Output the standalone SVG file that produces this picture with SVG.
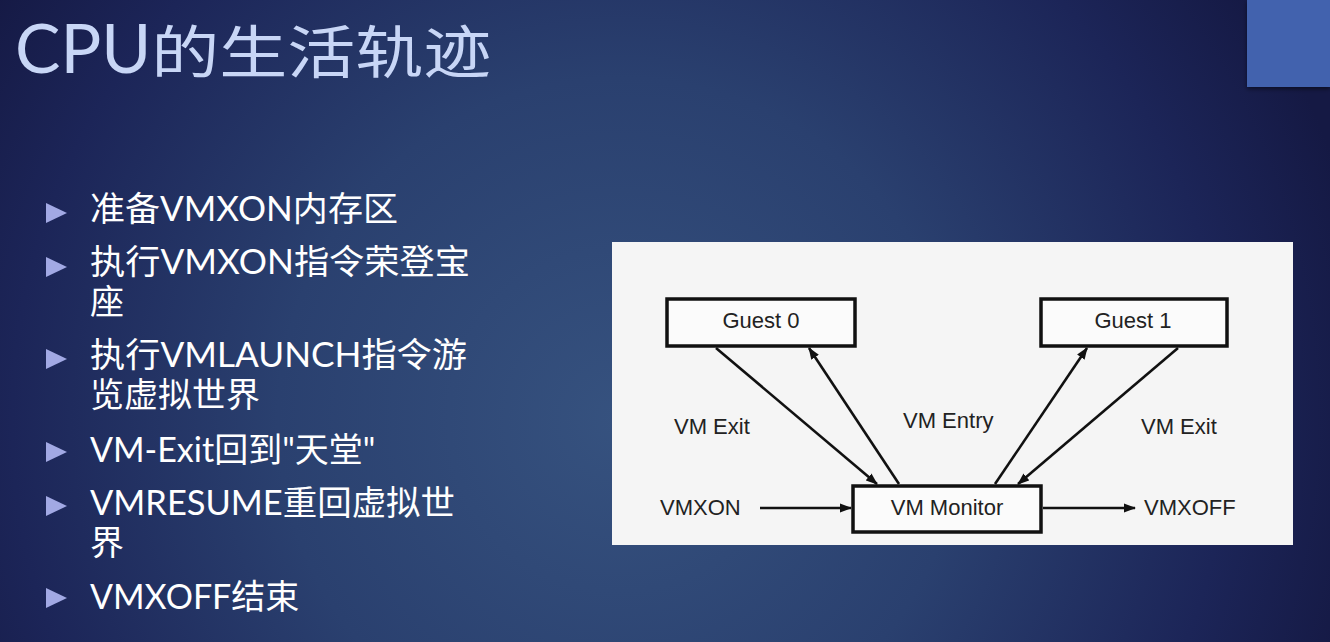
<svg xmlns="http://www.w3.org/2000/svg" width="1330" height="642" viewBox="0 0 1330 642">
  <defs>
    <radialGradient id="bg" gradientUnits="userSpaceOnUse" cx="620" cy="420" r="760">
      <stop offset="0" stop-color="#36527f"/>
      <stop offset="0.45" stop-color="#2a406f"/>
      <stop offset="0.8" stop-color="#1c2558"/>
      <stop offset="1" stop-color="#151944"/>
    </radialGradient>
    <filter id="shadow" x="-20%" y="-20%" width="140%" height="140%">
      <feDropShadow dx="0" dy="2" stdDeviation="2" flood-color="#000" flood-opacity="0.5"/>
    </filter>
    <marker id="arrow" markerWidth="12" markerHeight="10" refX="11" refY="5" orient="auto" markerUnits="userSpaceOnUse">
      <path d="M0,0.5 L12,5 L0,9.5 Z" fill="#111"/>
    </marker>
  </defs>
  <style>
    .title { font-family: Lato, "Noto Sans CJK SC", sans-serif; fill: #c8d6f6; }
    .item { font-family: Lato, "Noto Sans CJK SC", sans-serif; font-size: 34px; fill: #ffffff; }
    .bullet { fill: #a2a9e4; }
    .box { fill: #fbfbfb; stroke: #111; stroke-width: 3.5; }
    .lbl { font-family: "Liberation Sans", Arial, sans-serif; font-size: 22px; fill: #222; }
    .conn { stroke: #111; stroke-width: 2.6; fill: none; marker-end: url(#arrow); }
  </style>

  <!-- slide background -->
  <rect x="0" y="0" width="1330" height="642" fill="url(#bg)"/>
  <rect x="1247" y="0" width="83" height="87" fill="#4262ae" filter="url(#shadow)"/>

  <!-- title -->
  <text class="title" x="15" y="73"><tspan font-size="68">CPU</tspan><tspan font-size="57" textLength="340" lengthAdjust="spacingAndGlyphs">的生活轨迹</tspan></text>

  <!-- bullet list -->
  <g id="bullets">
    <polygon class="bullet" points="46,203 67,213 46,223"/>
    <polygon class="bullet" points="46,257 67,267 46,277"/>
    <polygon class="bullet" points="46,349 67,359 46,369"/>
    <polygon class="bullet" points="46,442 67,452 46,462"/>
    <polygon class="bullet" points="46,496 67,506 46,516"/>
    <polygon class="bullet" points="46,588 67,598 46,608"/>
    <text class="item" x="90" y="221" textLength="308" lengthAdjust="spacingAndGlyphs">准备VMXON内存区</text>
    <text class="item" x="90" y="274" textLength="380" lengthAdjust="spacingAndGlyphs">执行VMXON指令荣登宝</text>
    <text class="item" x="90" y="314">座</text>
    <text class="item" x="90" y="367" textLength="377" lengthAdjust="spacingAndGlyphs">执行VMLAUNCH指令游</text>
    <text class="item" x="90" y="407">览虚拟世界</text>
    <text class="item" x="90" y="462">VM-Exit回到"天堂"</text>
    <text class="item" x="90" y="515" textLength="365" lengthAdjust="spacingAndGlyphs">VMRESUME重回虚拟世</text>
    <text class="item" x="90" y="555">界</text>
    <text class="item" x="90" y="609">VMXOFF结束</text>
  </g>

  <!-- diagram panel -->
  <rect x="612" y="242" width="681" height="303" fill="#f5f5f5"/>

  <g id="connectors">
    <line class="conn" x1="716" y1="348" x2="877" y2="484"/>
    <line class="conn" x1="899" y1="484" x2="809" y2="348"/>
    <line class="conn" x1="995" y1="484" x2="1087" y2="348"/>
    <line class="conn" x1="1178" y1="348" x2="1018" y2="484"/>
    <line class="conn" x1="760" y1="508" x2="851" y2="508"/>
    <line class="conn" x1="1043" y1="508" x2="1135" y2="508"/>
  </g>

  <g id="guest0">
    <rect class="box" x="667" y="299" width="188" height="47"/>
    <text class="lbl" x="761" y="328" text-anchor="middle">Guest 0</text>
  </g>
  <g id="guest1">
    <rect class="box" x="1041" y="299" width="186" height="47"/>
    <text class="lbl" x="1133" y="328" text-anchor="middle">Guest 1</text>
  </g>
  <g id="vm-monitor">
    <rect class="box" x="853" y="486" width="188" height="46"/>
    <text class="lbl" x="947" y="515" text-anchor="middle">VM Monitor</text>
  </g>

  <g id="labels">
    <text class="lbl" x="674" y="434">VM Exit</text>
    <text class="lbl" x="903" y="428">VM Entry</text>
    <text class="lbl" x="1141" y="434">VM Exit</text>
    <text class="lbl" x="660" y="515">VMXON</text>
    <text class="lbl" x="1144" y="515">VMXOFF</text>
  </g>
</svg>
